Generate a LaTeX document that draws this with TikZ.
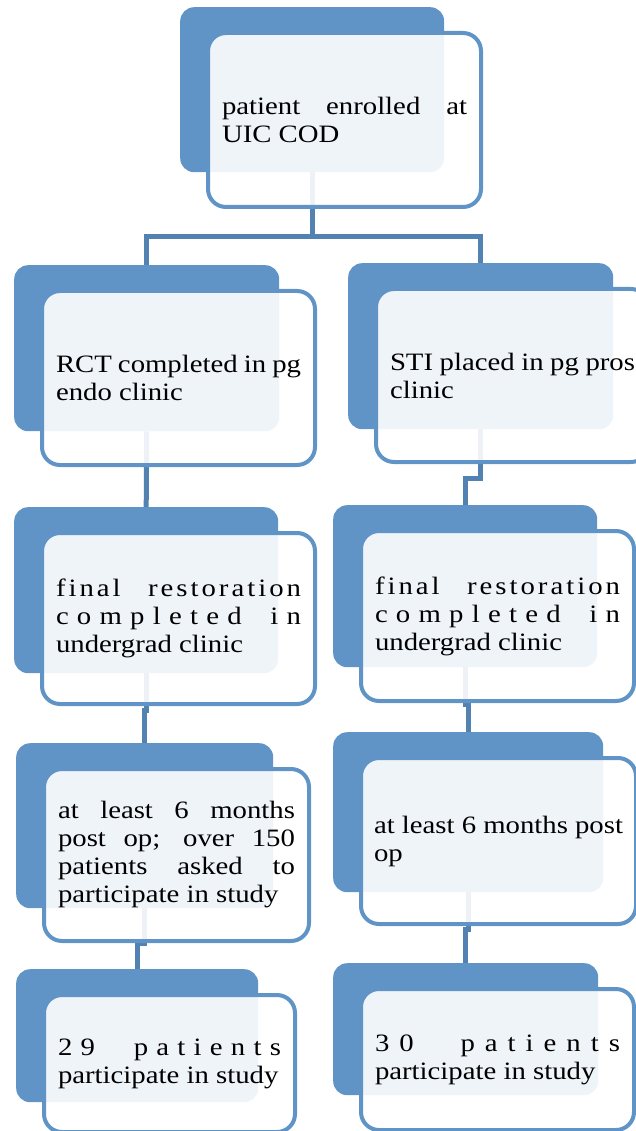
\documentclass[tikz,border=0pt]{standalone}
\usepackage{fontspec}
\setmainfont{Liberation Serif}[FakeStretch=1.15]
\usetikzlibrary{backgrounds}
\definecolor{boxblue}{RGB}{96,148,199}
\definecolor{linkblue}{RGB}{82,130,178}

\newcommand{\spaced}[2]{{\addfontfeature{LetterSpace=#1}#2}}

\begin{document}
\begin{tikzpicture}[
    x=1pt, y=-1pt,
    backbox/.style={rectangle, fill=boxblue, rounded corners=14pt,
        anchor=north west, inner sep=0pt},
    frontbox/.style={rectangle, draw=boxblue, line width=4pt, fill=white,
        fill opacity=0.9, text opacity=1, rounded corners=18pt,
        anchor=north west, xshift=26pt, yshift=-24pt, text width=245pt,
        inner xsep=14pt, inner ysep=0pt, align=justify,
        font=\fontsize{25}{28}\selectfont},
    link/.style={draw=linkblue, line width=5pt}
]
    \useasboundingbox (0,0) rectangle (636,1131);

    \node[backbox, minimum width=264pt, minimum height=165pt] (enrolBack) at (180,7) {};
    \node[frontbox, minimum height=174pt] (enrol) at (enrolBack.north west)
        {patient enrolled at\linebreak UIC COD};

    \node[backbox, minimum width=265pt, minimum height=166pt] (rctBack) at (14,265) {};
    \node[frontbox, minimum height=174pt] (rct) at (rctBack.north west)
        {RCT completed in pg\linebreak endo clinic};
    \node[backbox, minimum width=265pt, minimum height=166pt] (stiBack) at (348,263) {};
    \node[frontbox, minimum height=173pt] (sti) at (stiBack.north west)
        {STI placed in pg pros\linebreak clinic};

    \node[backbox, minimum width=264pt, minimum height=166pt] (restLBack) at (14,507) {};
    \node[frontbox, minimum height=171pt] (restL) at (restLBack.north west)
        {\spaced{12}{final restoration}\linebreak \spaced{33}{completed in}\linebreak undergrad clinic};
    \node[backbox, minimum width=264pt, minimum height=162pt] (restRBack) at (333,505) {};
    \node[frontbox, minimum height=170pt] (restR) at (restRBack.north west)
        {\spaced{12}{final restoration}\linebreak \spaced{33}{completed in}\linebreak undergrad clinic};

    \node[backbox, minimum width=257pt, minimum height=165pt] (sixLBack) at (16,743) {};
    \node[frontbox, minimum height=172pt, text width=237pt] (sixL) at (sixLBack.north west)
        {at least 6 months\linebreak post op; over 150\linebreak patients asked to\linebreak participate in study};
    \node[backbox, minimum width=270pt, minimum height=160pt] (sixRBack) at (333,732) {};
    \node[frontbox, minimum height=166pt, text width=249pt, inner xsep=13pt] (sixR) at (sixRBack.north west)
        {at least 6 months post\linebreak op};

    \node[backbox, minimum width=242pt, minimum height=133pt] (partLBack) at (16,969) {};
    \node[frontbox, minimum height=137pt, text width=223pt] (partL) at (partLBack.north west)
        {\spaced{33}{29 patients}\linebreak participate in study};
    \node[backbox, minimum width=265pt, minimum height=132pt] (partRBack) at (333,963) {};
    \node[frontbox, minimum height=141pt] (partR) at (partRBack.north west)
        {\spaced{40}{30 patients}\linebreak participate in study};

    % connectors sit under the boxes
    \begin{pgfonlayer}{background}
        \draw[link] (enrolBack.south) -- ++(0,64) coordinate (split) -| (rctBack.north);
        \draw[link] (split) -| (stiBack.north);
        \draw[link] (rctBack.south) -- (restLBack.north);
        \draw[link] (stiBack.south) -- ++(0,49) -| (restRBack.north);
        \draw[link] (restLBack.south) -- ++(0,37) -| (sixLBack.north);
        \draw[link] (restRBack.south) -- ++(0,37) -| (sixRBack.north);
        \draw[link] (sixLBack.south) -- ++(0,35) -| (partLBack.north);
        \draw[link] (sixRBack.south) -- ++(0,37) -| (partRBack.north);
    \end{pgfonlayer}
\end{tikzpicture}
\end{document}
